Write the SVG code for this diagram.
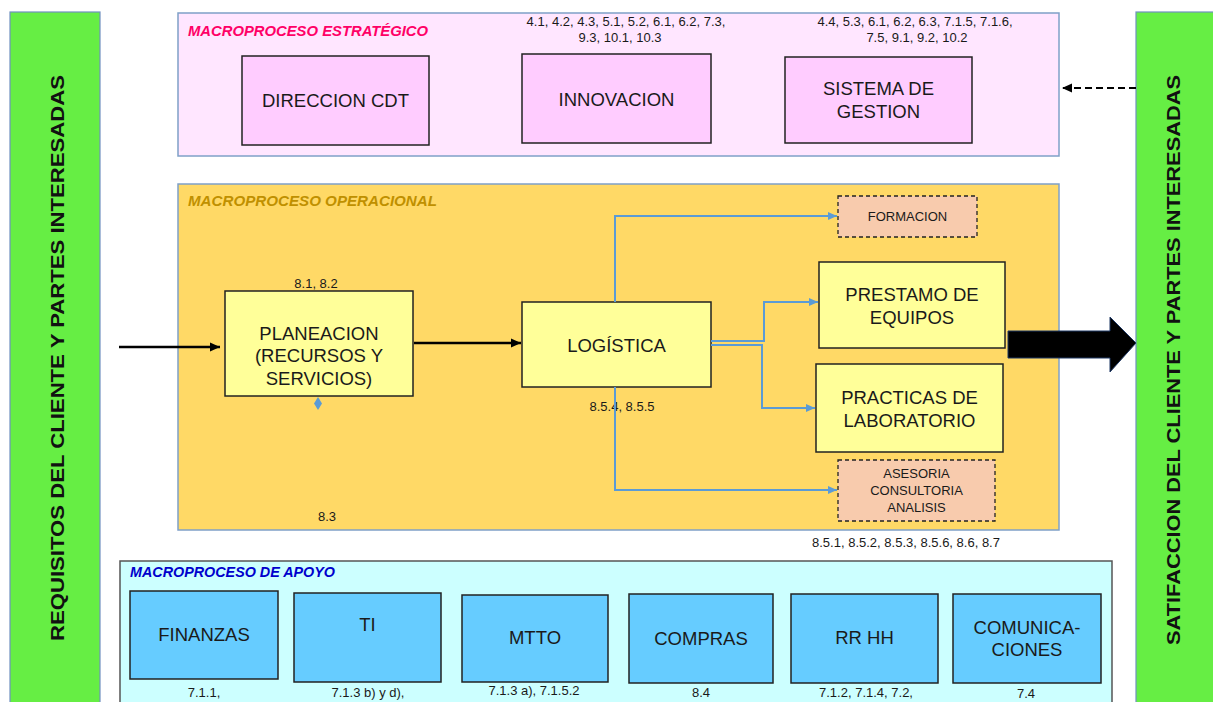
<svg xmlns="http://www.w3.org/2000/svg" width="1213" height="702" viewBox="0 0 1213 702">
<defs>
<style>
text{font-family:"Liberation Sans",Arial,sans-serif;fill:#1a1a1a}
.big{font-size:18.5px;text-anchor:middle}
.num{font-size:13px;text-anchor:middle}
.sm{font-size:13px;text-anchor:middle}
.title{font-size:14.5px;font-weight:bold;font-style:italic}
.side{font-size:19px;font-weight:bold;text-anchor:middle;fill:#111}
.band{fill:#66ee44;stroke:#7090c0;stroke-width:1.2}
.pink{fill:#ffccff;stroke:#222;stroke-width:1.5}
.yel{fill:#ffff99;stroke:#222;stroke-width:1.5}
.dash{fill:#f8cbad;stroke:#222;stroke-width:1.3;stroke-dasharray:4 3}
.blue{fill:#66ccff;stroke:#222;stroke-width:1.5}
.bl{fill:none;stroke:#5b9bd5;stroke-width:2}
.bk{fill:none;stroke:#000;stroke-width:2.5}
</style>
<marker id="ab" markerUnits="userSpaceOnUse" markerWidth="10" markerHeight="10" refX="9" refY="5" orient="auto"><path d="M0,1 L9,5 L0,9 Z" fill="#5b9bd5"/></marker>
<marker id="ak" markerUnits="userSpaceOnUse" markerWidth="12" markerHeight="12" refX="10" refY="6" orient="auto"><path d="M0,1.5 L10,6 L0,10.5 Z" fill="#000"/></marker>
</defs>

<g id="side-left">
<rect class="band" x="10" y="12" width="90" height="700"/>
<text class="side" transform="translate(64,358) rotate(-90)" textLength="566" lengthAdjust="spacingAndGlyphs">REQUISITOS DEL CLIENTE Y PARTES INTERESADAS</text>
</g>
<g id="side-right">
<rect class="band" x="1136" y="12" width="90" height="700"/>
<text class="side" transform="translate(1180,360) rotate(-90)" textLength="570" lengthAdjust="spacingAndGlyphs">SATIFACCION DEL CLIENTE Y PARTES INTERESADAS</text>
</g>

<g id="macro-estrategico">
<rect x="178" y="13" width="881" height="143" fill="#ffe6ff" stroke="#7fa0c8" stroke-width="1.5"/>
<text class="title" x="188" y="36" style="fill:#ff0066" textLength="240" lengthAdjust="spacingAndGlyphs">MACROPROCESO ESTRATÉGICO</text>
</g>
<g id="direccion">
<rect class="pink" x="242" y="56" width="187" height="89"/>
<text class="big" x="335.5" y="107">DIRECCION CDT</text>
</g>
<g id="innovacion">
<rect class="pink" x="522" y="54" width="189" height="89"/>
<text class="num" x="626" y="26">4.1, 4.2, 4.3, 5.1, 5.2, 6.1, 6.2, 7.3,</text>
<text class="num" x="620" y="42">9.3, 10.1, 10.3</text>
<text class="big" x="616.5" y="106">INNOVACION</text>
</g>
<g id="sistema">
<rect class="pink" x="785" y="57" width="187" height="86"/>
<text class="num" x="915" y="26">4.4, 5.3, 6.1, 6.2, 6.3, 7.1.5, 7.1.6,</text>
<text class="num" x="917" y="42">7.5, 9.1, 9.2, 10.2</text>
<text class="big" x="878.5" y="95">SISTEMA DE</text>
<text class="big" x="878.5" y="118">GESTION</text>
</g>

<g id="macro-operacional">
<rect x="178" y="184" width="881" height="346" fill="#ffd966" stroke="#7fa0c8" stroke-width="1.5"/>
<text class="title" x="188" y="206" style="fill:#bf9000" textLength="249" lengthAdjust="spacingAndGlyphs">MACROPROCESO OPERACIONAL</text>
<text class="num" x="316" y="288">8.1, 8.2</text>
<path d="M318,397 L322,403.5 L318,410 L314,403.5 Z" fill="#5b9bd5"/>
<text class="num" x="327" y="521">8.3</text>
</g>
<g id="planeacion">
<rect class="yel" x="225" y="291" width="188" height="105"/>
<text class="big" x="319" y="340">PLANEACION</text>
<text class="big" x="319" y="362">(RECURSOS Y</text>
<text class="big" x="319" y="385">SERVICIOS)</text>
</g>
<g id="logistica">
<rect class="yel" x="522" y="302" width="189" height="85"/>
<text class="big" x="616.5" y="352">LOGÍSTICA</text>
<text class="num" x="622" y="411">8.5.4, 8.5.5</text>
</g>
<g id="formacion">
<rect class="dash" x="838" y="196" width="139" height="41"/>
<text class="sm" x="907.5" y="221">FORMACION</text>
</g>
<g id="prestamo">
<rect class="yel" x="819" y="262" width="186" height="86"/>
<text class="big" x="912" y="301">PRESTAMO DE</text>
<text class="big" x="912" y="324">EQUIPOS</text>
</g>
<g id="practicas">
<rect class="yel" x="816" y="364" width="187" height="88"/>
<text class="big" x="909.5" y="404">PRACTICAS DE</text>
<text class="big" x="909.5" y="427">LABORATORIO</text>
</g>
<g id="asesoria">
<rect class="dash" x="838" y="460" width="157" height="61"/>
<text class="sm" x="916.5" y="478">ASESORIA</text>
<text class="sm" x="916.5" y="495">CONSULTORIA</text>
<text class="sm" x="916.5" y="512">ANALISIS</text>
<text class="num" x="906" y="547">8.5.1, 8.5.2, 8.5.3, 8.5.6, 8.6, 8.7</text>
</g>

<g id="macro-apoyo">
<rect x="120" y="561" width="992" height="150" fill="#ccffff" stroke="#555" stroke-width="1.5"/>
<text class="title" x="130" y="577" style="fill:#0000cc" textLength="205" lengthAdjust="spacingAndGlyphs">MACROPROCESO DE APOYO</text>
</g>
<g id="finanzas">
<rect class="blue" x="130" y="591" width="148" height="88"/>
<text class="big" x="204" y="641">FINANZAS</text>
<text class="num" x="204" y="697">7.1.1,</text>
</g>
<g id="ti">
<rect class="blue" x="294" y="593" width="147" height="89"/>
<text class="big" x="367.5" y="631">TI</text>
<text class="num" x="368" y="697">7.1.3 b) y d),</text>
</g>
<g id="mtto">
<rect class="blue" x="462" y="595" width="146" height="87"/>
<text class="big" x="535" y="644">MTTO</text>
<text class="num" x="534" y="695">7.1.3 a), 7.1.5.2</text>
</g>
<g id="compras">
<rect class="blue" x="629" y="594" width="144" height="89"/>
<text class="big" x="701" y="645">COMPRAS</text>
<text class="num" x="701" y="697">8.4</text>
</g>
<g id="rrhh">
<rect class="blue" x="791" y="594" width="147" height="89"/>
<text class="big" x="864.5" y="644">RR HH</text>
<text class="num" x="866" y="697">7.1.2, 7.1.4, 7.2,</text>
</g>
<g id="comunicaciones">
<rect class="blue" x="953" y="594" width="148" height="89"/>
<text class="big" x="1027" y="634">COMUNICA-</text>
<text class="big" x="1027" y="656">CIONES</text>
<text class="num" x="1026" y="698">7.4</text>
</g>

<g id="connectors">
<path class="bk" d="M119,347 H220" marker-end="url(#ak)"/>
<path class="bk" d="M414,343 H521" marker-end="url(#ak)"/>
<path d="M1136,88 H1062" fill="none" stroke="#000" stroke-width="2" stroke-dasharray="7 4" marker-end="url(#ak)"/>
<path class="bl" d="M615,302 V216 H837" marker-end="url(#ab)"/>
<path class="bl" d="M615,387 V490 H837" marker-end="url(#ab)"/>
<path class="bl" d="M711,341 H764 V302 H818" marker-end="url(#ab)"/>
<path class="bl" d="M711,345 H762 V408 H815" marker-end="url(#ab)"/>
<polygon points="1008,331 1110,331 1110,317 1136,343 1110,372 1110,358 1008,358" fill="#000" stroke="#1f3864" stroke-width="1"/>
</g>
</svg>
